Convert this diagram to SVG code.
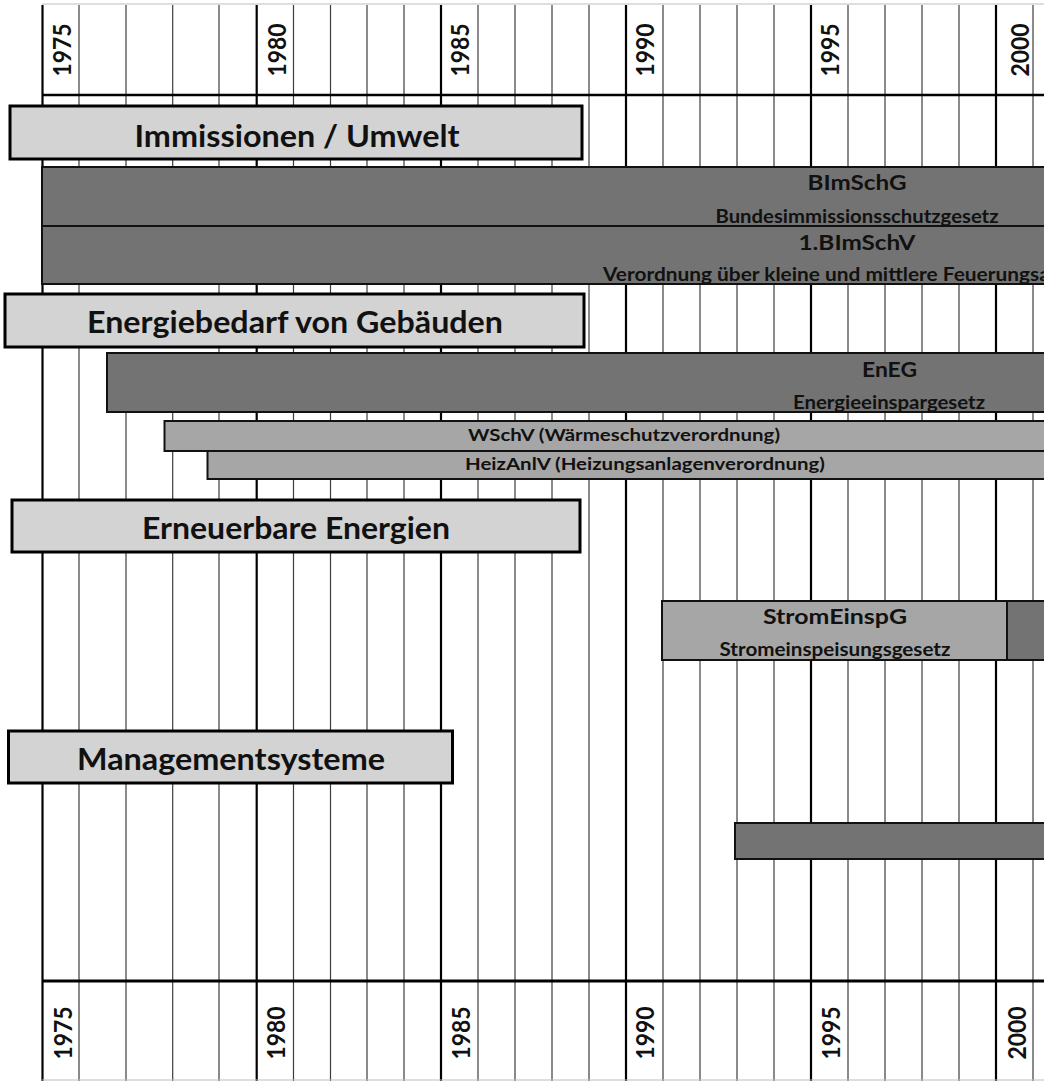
<svg xmlns="http://www.w3.org/2000/svg" width="1044" height="1081" viewBox="0 0 1044 1081">
<style>
.minor{stroke:#3c3c3c;stroke-width:1.2}
.major{stroke:#000;stroke-width:2.2}
.hl{stroke:#000;stroke-width:2.5}
.hdr{fill:#d3d3d3;stroke:#000;stroke-width:3}
.dark{fill:#737373;stroke:#111;stroke-width:2}
.mid{fill:#a6a6a6;stroke:#111;stroke-width:2}
text{font-family:Lato,"Open Sans","Liberation Sans",sans-serif;font-weight:bold;fill:#111;text-anchor:middle}
.t1{font-size:30px}
.yr{font-size:24px}
.bt{font-size:21px}
.bs{font-size:18.5px}
.sm{font-size:17.5px}
</style>
<defs>
<clipPath id="cBIm"><rect x="42" y="167" width="1700" height="58"/></clipPath>
<clipPath id="cBV"><rect x="42" y="226" width="1700" height="57"/></clipPath>
<clipPath id="cEnEG"><rect x="107" y="353" width="1700" height="58"/></clipPath>
<clipPath id="cStrom"><rect x="662" y="601" width="345" height="58"/></clipPath>
</defs>
<rect width="1044" height="1081" fill="#fff"/>
<g id="grid">
<line x1="42" y1="4" x2="1044" y2="4" stroke="#bdbdbd" stroke-width="1.2"/>
<line class="major" x1="42.5" y1="5" x2="42.5" y2="1081"/>
<line class="minor" x1="79" y1="5" x2="79" y2="1081"/>
<line class="minor" x1="126" y1="5" x2="126" y2="285"/>
<line class="minor" x1="126" y1="412" x2="126" y2="1081"/>
<line class="minor" x1="172.7" y1="5" x2="172.7" y2="285"/>
<line class="minor" x1="172.7" y1="412" x2="172.7" y2="1081"/>
<line class="minor" x1="219" y1="5" x2="219" y2="1081"/>
<line class="major" x1="256.7" y1="5" x2="256.7" y2="1081"/>
<line class="minor" x1="293.5" y1="5" x2="293.5" y2="1081"/>
<line class="minor" x1="330.5" y1="5" x2="330.5" y2="1081"/>
<line class="minor" x1="367" y1="5" x2="367" y2="1081"/>
<line class="minor" x1="404" y1="5" x2="404" y2="1081"/>
<line class="major" x1="441" y1="5" x2="441" y2="1081"/>
<line class="minor" x1="478" y1="5" x2="478" y2="1081"/>
<line class="minor" x1="515" y1="5" x2="515" y2="1081"/>
<line class="minor" x1="552" y1="5" x2="552" y2="1081"/>
<line class="minor" x1="589" y1="5" x2="589" y2="1081"/>
<line class="major" x1="626" y1="5" x2="626" y2="1081"/>
<line class="minor" x1="663" y1="5" x2="663" y2="1081"/>
<line class="minor" x1="700" y1="5" x2="700" y2="1081"/>
<line class="minor" x1="737" y1="5" x2="737" y2="1081"/>
<line class="minor" x1="774" y1="5" x2="774" y2="1081"/>
<line class="major" x1="811" y1="5" x2="811" y2="1081"/>
<line class="minor" x1="848" y1="5" x2="848" y2="1081"/>
<line class="minor" x1="885" y1="5" x2="885" y2="1081"/>
<line class="minor" x1="922" y1="5" x2="922" y2="1081"/>
<line class="minor" x1="959" y1="5" x2="959" y2="1081"/>
<line class="major" x1="996" y1="5" x2="996" y2="1081"/>
<line class="minor" x1="1033" y1="5" x2="1033" y2="1081"/>
<line class="hl" x1="42" y1="95" x2="1044" y2="95"/>
<line x1="42" y1="981" x2="1044" y2="981" stroke="#000" stroke-width="3"/>
<line x1="42" y1="1080" x2="1044" y2="1080" stroke="#bdbdbd" stroke-width="1"/>
</g>
<g id="years-top">
<text class="yr" transform="translate(71,50) rotate(-90)" textLength="53" lengthAdjust="spacingAndGlyphs">1975</text>
<text class="yr" transform="translate(285.5,50) rotate(-90)" textLength="53" lengthAdjust="spacingAndGlyphs">1980</text>
<text class="yr" transform="translate(468.5,50) rotate(-90)" textLength="53" lengthAdjust="spacingAndGlyphs">1985</text>
<text class="yr" transform="translate(654,50) rotate(-90)" textLength="53" lengthAdjust="spacingAndGlyphs">1990</text>
<text class="yr" transform="translate(838.5,50) rotate(-90)" textLength="53" lengthAdjust="spacingAndGlyphs">1995</text>
<text class="yr" transform="translate(1028.5,50) rotate(-90)" textLength="53" lengthAdjust="spacingAndGlyphs">2000</text>
</g>
<g id="years-bottom">
<text class="yr" transform="translate(72,1033) rotate(-90)" textLength="53" lengthAdjust="spacingAndGlyphs">1975</text>
<text class="yr" transform="translate(284.5,1033) rotate(-90)" textLength="53" lengthAdjust="spacingAndGlyphs">1980</text>
<text class="yr" transform="translate(469.5,1033) rotate(-90)" textLength="53" lengthAdjust="spacingAndGlyphs">1985</text>
<text class="yr" transform="translate(654,1033) rotate(-90)" textLength="53" lengthAdjust="spacingAndGlyphs">1990</text>
<text class="yr" transform="translate(839.5,1033) rotate(-90)" textLength="53" lengthAdjust="spacingAndGlyphs">1995</text>
<text class="yr" transform="translate(1025.5,1033) rotate(-90)" textLength="53" lengthAdjust="spacingAndGlyphs">2000</text>
</g>
<g id="hdr-immissionen">
<rect class="hdr" x="10" y="106" width="572" height="53"/>
<text class="t1" x="297" y="147" textLength="325" lengthAdjust="spacingAndGlyphs">Immissionen / Umwelt</text>
</g>
<g id="bar-bimschg">
<rect class="dark" x="42" y="167" width="1700" height="59"/>
<g clip-path="url(#cBIm)">
<text class="bt" x="857" y="190" textLength="99" lengthAdjust="spacingAndGlyphs">BImSchG</text>
<text class="bs" x="857" y="222.5" textLength="283" lengthAdjust="spacingAndGlyphs">Bundesimmissionsschutzgesetz</text>
</g>
</g>
<g id="bar-1bimschv">
<rect class="dark" x="42" y="226" width="1700" height="58"/>
<g clip-path="url(#cBV)">
<text class="bt" x="857" y="250" textLength="117" lengthAdjust="spacingAndGlyphs">1.BImSchV</text>
<text class="bs" x="857" y="281" textLength="508" lengthAdjust="spacingAndGlyphs">Verordnung über kleine und mittlere Feuerungsanlagen</text>
</g>
</g>
<g id="hdr-energiebedarf">
<rect class="hdr" x="5" y="294" width="579" height="53"/>
<text class="t1" x="295" y="333" textLength="416" lengthAdjust="spacingAndGlyphs">Energiebedarf von Gebäuden</text>
</g>
<g id="bar-eneg">
<rect class="dark" x="107" y="353" width="1700" height="59"/>
<g clip-path="url(#cEnEG)">
<text class="bt" x="889.5" y="377" textLength="55" lengthAdjust="spacingAndGlyphs">EnEG</text>
<text class="bs" x="889" y="408.5" textLength="192" lengthAdjust="spacingAndGlyphs">Energieeinspargesetz</text>
</g>
</g>
<g id="bar-wschv">
<rect class="mid" x="164.5" y="421" width="1700" height="30"/>
<text class="sm" x="624" y="441" textLength="312" lengthAdjust="spacingAndGlyphs">WSchV (Wärmeschutzverordnung)</text>
</g>
<g id="bar-heizanlv">
<rect class="mid" x="207.5" y="451" width="1700" height="28"/>
<text class="sm" x="645" y="470" textLength="360" lengthAdjust="spacingAndGlyphs">HeizAnlV (Heizungsanlagenverordnung)</text>
</g>
<g id="hdr-erneuerbare">
<rect class="hdr" x="12" y="500" width="568" height="52"/>
<text class="t1" x="296" y="539" textLength="308" lengthAdjust="spacingAndGlyphs">Erneuerbare Energien</text>
</g>
<g id="bar-stromeinspg">
<rect class="mid" x="662" y="601" width="345" height="59"/>
<g clip-path="url(#cStrom)">
<text class="bt" x="835" y="624" textLength="144" lengthAdjust="spacingAndGlyphs">StromEinspG</text>
<text class="bs" x="835" y="655.5" textLength="231" lengthAdjust="spacingAndGlyphs">Stromeinspeisungsgesetz</text>
</g>
</g>
<g id="bar-eeg">
<rect class="dark" x="1007" y="601" width="700" height="59"/>
</g>
<g id="hdr-management">
<rect class="hdr" x="8.5" y="731" width="444" height="52"/>
<text class="t1" x="231" y="770" textLength="308" lengthAdjust="spacingAndGlyphs">Managementsysteme</text>
</g>
<g id="bar-management">
<rect class="dark" x="735" y="823" width="1000" height="36"/>
</g>
<g id="connectors"/>
</svg>
